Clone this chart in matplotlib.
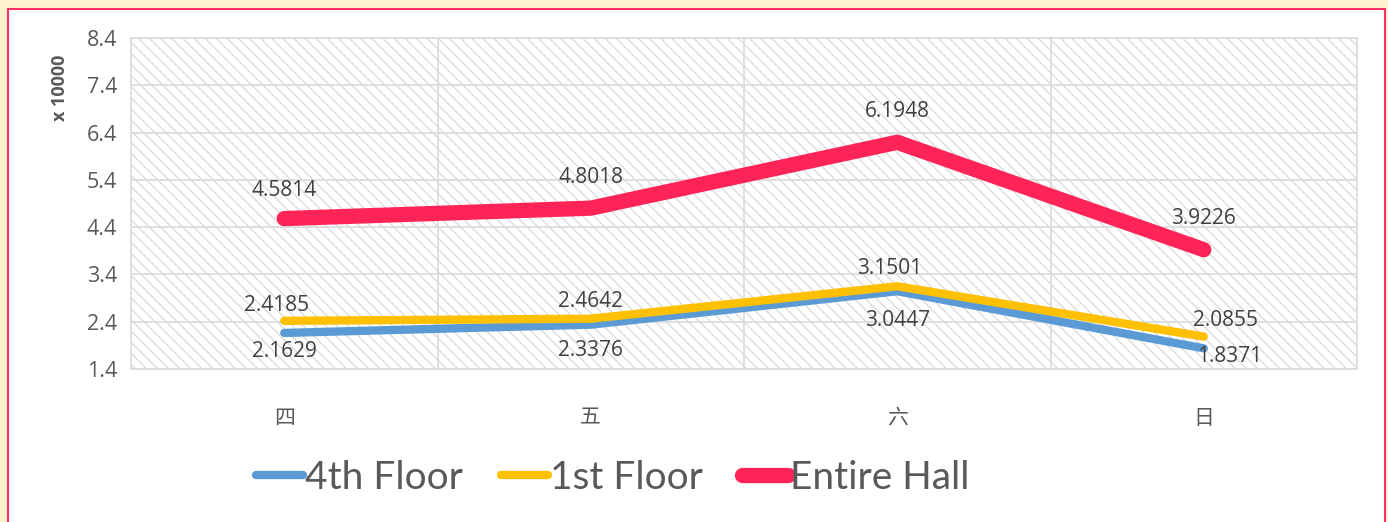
import matplotlib.pyplot as plt
from matplotlib.patches import Rectangle

days = ['四', '五', '六', '日']
floor4 = [2.1629, 2.3376, 3.0447, 1.8371]
floor1 = [2.4185, 2.4642, 3.1501, 2.0855]
hall = [4.5814, 4.8018, 6.1948, 3.9226]
yticks = [1.4, 2.4, 3.4, 4.4, 5.4, 6.4, 7.4, 8.4]

TXT = '#595959'
plt.rcParams['font.family'] = ['Open Sans', 'DejaVu Sans']
plt.rcParams['hatch.linewidth'] = 0.9

fig = plt.figure(figsize=(13.88, 5.22), dpi=100, facecolor='#FFF2CC')
# white panel with pink frame
fig.patches.append(Rectangle((8 / 1388, -0.01), 1377 / 1388, 1 - 9 / 522 + 0.01,
                             transform=fig.transFigure, facecolor='white',
                             edgecolor='#FF2E6A', lw=1.5, zorder=-5))

ax = fig.add_axes([131 / 1388, 1 - 369 / 522, 1226 / 1388, 331 / 522])
ax.set_facecolor('white')
ax.add_patch(Rectangle((0, 0), 1, 1, transform=ax.transAxes, facecolor='white',
                       edgecolor='#D9D9D9', hatch='\\\\\\', lw=0, zorder=0))

x = range(len(days))
ax.plot(x, floor4, color='#5B9BD5', lw=6, solid_capstyle='round', label='4th Floor', zorder=3)
ax.plot(x, floor1, color='#FFC000', lw=6, solid_capstyle='round', label='1st Floor', zorder=3)
ax.plot(x, hall, color='#FF2458', lw=11, solid_capstyle='round', label='Entire Hall', zorder=4)

off4 = [(0, -19), (0, -26), (0, -29), (26, -8)]
off1 = [(-8, 15), (0, 17), (-8, 18), (22, 16)]
offh = [(0, 28), (0, 31), (0, 31), (0, 31)]
for vals, offs in ((floor4, off4), (floor1, off1), (hall, offh)):
    for i, v in enumerate(vals):
        ax.annotate(f'{v:.4f}', (i, v), xytext=offs[i], textcoords='offset pixels',
                    ha='center', va='center', fontsize=15, color='#404040', zorder=5)

ax.set_xlim(-0.5, 3.5)
ax.set_ylim(1.4, 8.4)
ax.set_yticks(yticks)
ax.set_yticklabels([f'{t:.1f}' for t in yticks], fontsize=15.5, color=TXT)
ax.set_xticks(list(x))
ax.set_xticklabels(days, fontsize=15, color=TXT, family=['Noto Sans CJK TC', 'DejaVu Sans'])
ax.set_xticks([0.5, 1.5, 2.5], minor=True)
ax.tick_params(which='both', length=0)
ax.tick_params(axis='x', pad=27)
ax.tick_params(axis='y', pad=10)
ax.grid(True, axis='y', color='#DCDCDC', lw=1.3)
ax.grid(True, axis='x', which='minor', color='#DCDCDC', lw=1.3)
ax.set_axisbelow(True)
for s in ax.spines.values():
    s.set_color('#DCDCDC')
    s.set_linewidth(1.3)

fig.text(60 / 1388, 1 - 88 / 522, 'x 10000', rotation=90, ha='center', va='center',
         fontsize=13, fontweight='bold', color=TXT)

leg = fig.legend(loc='center', bbox_to_anchor=(613 / 1388, 1 - 478 / 522), ncol=3,
                 frameon=False, handlelength=1.2, handletextpad=0.05, columnspacing=1.0,
                 prop={'family': ['Lato', 'DejaVu Sans'], 'size': 28})
for t in leg.get_texts():
    t.set_color(TXT)

fig.savefig('out.png', dpi=100, facecolor=fig.get_facecolor())
